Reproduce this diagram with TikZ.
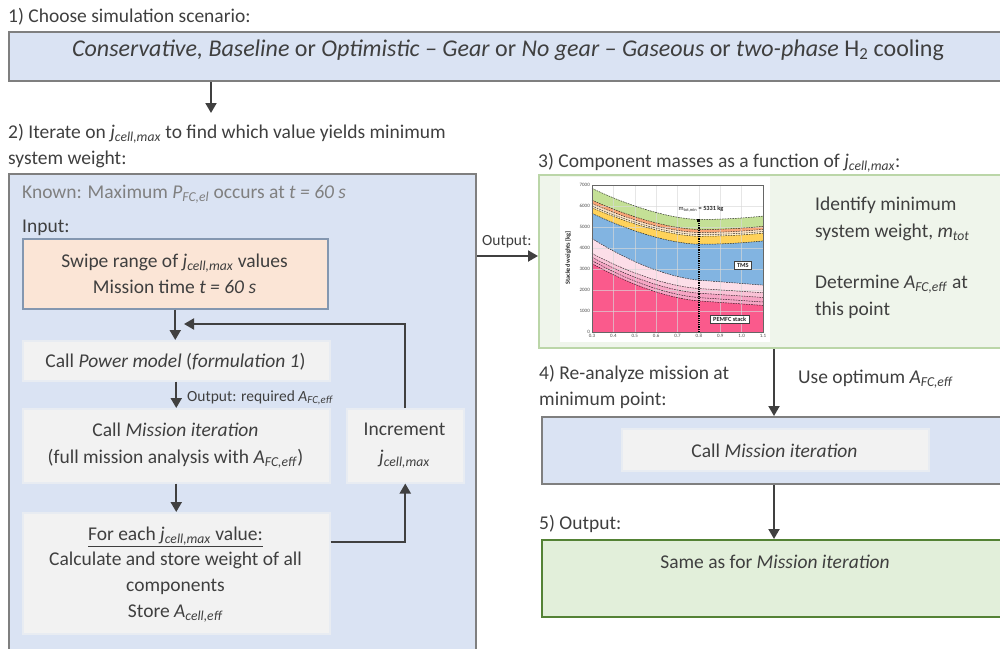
\documentclass[tikz,border=0pt]{standalone}
\usepackage{fontspec}
\setmainfont{Carlito}
\usetikzlibrary{arrows.meta}

\definecolor{txt}{HTML}{3F3F3F}
\definecolor{lbfill}{HTML}{DAE3F3}
\definecolor{lbdraw}{HTML}{7F7F7F}
\definecolor{peach}{HTML}{FBE5D6}
\definecolor{peachdraw}{HTML}{8497B0}
\definecolor{stepfill}{HTML}{F2F2F2}
\definecolor{stepdraw}{HTML}{E8ECF2}
\definecolor{pgfill}{HTML}{EFF5EB}
\definecolor{pgdraw}{HTML}{BBD6A8}
\definecolor{outfill}{HTML}{E2EFDA}
\definecolor{outdraw}{HTML}{548235}
\definecolor{arrowc}{HTML}{404040}
\definecolor{knowngray}{HTML}{808080}
% stacked-weight bands
\definecolor{cgreen}{HTML}{C4E096}
\definecolor{corange}{HTML}{F8A678}
\definecolor{ccream}{HTML}{FCE2C2}
\definecolor{clight}{HTML}{FFF1D0}
\definecolor{cyellow}{HTML}{FFD25A}
\definecolor{cblue}{HTML}{82B4E1}
\definecolor{cpinka}{HTML}{FCDEE8}
\definecolor{cpinkb}{HTML}{F9C2D6}
\definecolor{cpinkc}{HTML}{F6A5C4}
\definecolor{cred}{HTML}{FA5A8C}

\newcommand\jcm{\textit{j}\textsubscript{\textit{cell,max}}}
\newcommand\afc{\textit{A}\textsubscript{\textit{FC,eff}}}

\tikzset{
  txtnode/.style={text=txt, inner sep=0pt, font=\fontsize{19.5}{23}\selectfont},
  smalltxt/.style={text=txt, inner sep=0pt, font=\fontsize{15.5}{18}\selectfont},
  panel/.style={draw=lbdraw, fill=lbfill, line width=2pt, inner sep=0pt, anchor=north west},
  inputbox/.style={draw=peachdraw, fill=peach, line width=1.5pt, inner sep=0pt, anchor=north west},
  stepbox/.style={draw=stepdraw, fill=stepfill, line width=1.5pt, inner sep=0pt, anchor=north west},
  resultbox/.style={draw=pgdraw, fill=pgfill, line width=2pt, inner sep=0pt, anchor=north west},
  outbox/.style={draw=outdraw, fill=outfill, line width=2pt, inner sep=0pt, anchor=north west},
  arr/.style={draw=arrowc, line width=2pt, -{Triangle[length=10pt,width=11pt]}},
  chartgrid/.style={draw=gray!30, line width=0.5pt, opacity=0.65},
  bandline/.style={draw=black, line width=0.5pt, dash pattern=on 1.6pt off 1pt, opacity=0.8},
  ticklab/.style={text=black!70, inner sep=0pt, font=\fontsize{5}{6}\selectfont},
  chartlab/.style={text=black!85, font=\bfseries\fontsize{6.3}{7}\selectfont},
  declare function={
    su(\t)=(max(0.8-\t,0.001)/0.5)^1.63+1.2*max(\t-0.8,0)^2;
    sl(\t)=0.8*(max(0.8-\t,0.001)/0.5)^1.75+0.4*(0.8-\t);
  }
}

\begin{document}
\begin{tikzpicture}[x=1pt,y=-1pt]
\useasboundingbox (0,0) rectangle (1000,648);
\clip (0,0) rectangle (1000,648);

% ---------- step 1: scenario ----------
\node[txtnode, anchor=base west] (l1) at (8,22) {1) Choose simulation scenario:};
\node[panel, minimum width=1000pt, minimum height=49pt] (b1) at (8,31) {};
\node[txtnode, anchor=base, font=\fontsize{24}{28}\selectfont] (scen) at (508,56)
  {\textit{Conservative, Baseline} or \textit{Optimistic – Gear} or \textit{No gear – Gaseous} or \textit{two-phase} H\textsubscript{2} cooling};
\coordinate (a1end) at (211,113);
\draw[arr] (b1.south -| a1end) -- (a1end);

% ---------- step 2: iteration loop ----------
\node[txtnode, anchor=base west] (l2a) at (8,138) {2) Iterate on \jcm{} to find which value yields minimum};
\node[txtnode, anchor=base west] (l2b) at (8,164) {system weight:};
\node[panel, minimum width=467pt, minimum height=490pt] (b2) at (8,173) {};
\node[txtnode, anchor=base west, text=knowngray] (known) at (22,198)
  {Known: Maximum \textit{P}\textsubscript{\textit{FC,el}} occurs at \textit{t = 60 s}};
\node[txtnode, anchor=base west] (inl) at (22,232) {Input:};

\node[inputbox, minimum width=305pt, minimum height=70pt] (inbox) at (22,238) {};
\node[txtnode, anchor=base] (sw1) at (174.5,267) {Swipe range of \jcm{} values};
\node[txtnode, anchor=base] (sw2) at (174.5,293) {Mission time \textit{t = 60 s}};

\node[stepbox, minimum width=307pt, minimum height=40pt] (pwbox) at (22,340) {};
\node[txtnode, anchor=base] (pw) at (175.5,367) {Call \textit{Power model} (\textit{formulation 1})};

\node[stepbox, minimum width=307pt, minimum height=74pt] (misbox) at (22,408) {};
\node[txtnode, anchor=base] (mis1) at (175.5,436) {Call \textit{Mission iteration}};
\node[txtnode, anchor=base] (mis2) at (175.5,463) {(full mission analysis with \afc)};

\node[stepbox, minimum width=117pt, minimum height=74pt] (incbox) at (346,408) {};
\node[txtnode, anchor=base] (inc1) at (404.5,435) {Increment};
\node[txtnode, anchor=base] (inc2) at (404.5,463) {\jcm};

\node[stepbox, minimum width=307pt, minimum height=121pt] (febox) at (22,512) {};
\node[txtnode, anchor=base] (fe1) at (175.5,540) {\underline{For each \jcm{} value:}};
\node[txtnode, anchor=base] (fe2) at (175.5,565) {Calculate and store weight of all};
\node[txtnode, anchor=base] (fe3) at (175.5,591) {components};
\node[txtnode, anchor=base] (fe4) at (175.5,617) {Store \textit{A}\textsubscript{\textit{cell,eff}}};

\draw[arr] (inbox.south) -- (inbox.south |- pwbox.north);
\draw[arr] (pwbox.south) -- (misbox.north);
\node[smalltxt, anchor=base west] (outreq) at (187,401) {Output: required \afc};
\draw[arr] (misbox.south) -- (febox.north);
\draw[arr] ([yshift=-30pt]febox.north east) -| (incbox.south);
\coordinate (fbend) at (184,324);
\draw[arr] (incbox.north) |- (fbend);

% ---------- step 3: component masses ----------
\node[txtnode, anchor=base west] (l3) at (538,167) {3) Component masses as a function of \jcm:};
\node[resultbox, minimum width=472pt, minimum height=173pt] (b3) at (538,174) {};
\node[smalltxt, anchor=base west] (outl) at (482,245) {Output:};
\draw[arr] ([yshift=5.5pt]b3.west -| b2.east) -- ([yshift=5.5pt]b3.west);

\node[txtnode, anchor=base west] (id1) at (815,210) {Identify minimum};
\node[txtnode, anchor=base west] (id2) at (815,237) {system weight, \textit{m}\textsubscript{\textit{tot}}};
\node[txtnode, anchor=base west] (det1) at (815,288) {Determine \afc{} at};
\node[txtnode, anchor=base west] (det2) at (815,315) {this point};

% stacked weights chart
\fill[white] (560,177) rectangle (770,342);
\begin{scope}[shift={(527.875,332)}, x=213.75pt, y=0.021pt]
  \foreach \a/\b/\c in {6840/5360/cgreen, 6280/4880/corange, 6120/4740/ccream,
                        6000/4640/clight, 5920/4560/cyellow, 5650/4180/cblue}
    \fill[\c] plot[domain=0.3:1.1, samples=41] (\x,{\b+(\a-\b)*su(\x)}) -- (1.1,0) -- (0.3,0) -- cycle;
  \foreach \a/\b/\c in {4450/2470/cpinka, 3740/2070/cpinkb, 3560/1850/cpinkc,
                        3400/1640/cpinkc, 3260/1480/cred}
    \fill[\c] plot[domain=0.3:1.1, samples=41] (\x,{\b+(\a-\b)*sl(\x)}) -- (1.1,0) -- (0.3,0) -- cycle;
  \foreach \g in {0.4,0.5,0.6,0.7,0.8,0.9,1.0}
    \draw[chartgrid] (\g,0) -- (\g,7000);
  \foreach \g in {1000,2000,3000,4000,5000,6000}
    \draw[chartgrid] (0.3,\g) -- (1.1,\g);
  \foreach \a/\b in {6840/5360, 6280/4880, 6120/4740, 6000/4640, 5920/4560, 5650/4180}
    \draw[bandline] plot[domain=0.3:1.1, samples=41] (\x,{\b+(\a-\b)*su(\x)});
  \foreach \a/\b in {4450/2470, 3740/2070, 3560/1850, 3400/1640, 3260/1480}
    \draw[bandline] plot[domain=0.3:1.1, samples=41] (\x,{\b+(\a-\b)*sl(\x)});
  \draw[black!60, line width=0.6pt] (0.3,0) rectangle (1.1,7000);
  \foreach \t [count=\i] in {0.3,0.4,0.5,0.6,0.7,0.8,0.9,1.0,1.1}
    \node[ticklab, anchor=north] (xt\i) at ([yshift=-2pt]\t,0) {\t};
  \foreach \t [count=\i] in {0,1000,2000,3000,4000,5000,6000,7000}
    \node[ticklab, anchor=east] (yt\i) at ([xshift=-2pt]0.3,\t) {\t};
  \node[chartlab, rotate=90] (ylab) at (0.1877,3524) {Stacked weights [kg]};
  \draw[black, line width=1.3pt, dash pattern=on 1.2pt off 1pt] (0.8,0) -- (0.8,5331);
  \node[fill=black, minimum size=3pt, inner sep=0pt] (mmin) at (0.8,5331) {};
  \node[chartlab] (mlab) at (0.81,5857) {\mdseries m\textsubscript{tot,min}\bfseries{} = 5331 kg};
  \node[chartlab, draw=black!75, fill=white, line width=0.5pt, inner xsep=3pt, inner ysep=1.8pt] (tms) at (1.006,3190) {TMS};
  \node[chartlab, draw=black!75, fill=white, line width=0.5pt, inner xsep=3pt, inner ysep=1.8pt] (pem) at (0.944,620) {PEMFC stack};
\end{scope}

% ---------- step 4: re-analysis ----------
\node[txtnode, anchor=base west] (l4a) at (539,379) {4) Re-analyze mission at};
\node[txtnode, anchor=base west] (l4b) at (539,405) {minimum point:};
\node[panel, minimum width=464pt, minimum height=67pt] (b4) at (541,416) {};
\node[stepbox, minimum width=307pt, minimum height=42pt] (cmibox) at (621,428) {};
\node[txtnode, anchor=base] (cmi) at (774.5,457) {Call \textit{Mission iteration}};
\draw[arr] (b3.south -| b4.north) -- (b4.north);
\node[txtnode, anchor=base west] (useopt) at (798,383) {Use optimum \afc};

% ---------- step 5: output ----------
\node[txtnode, anchor=base west] (l5) at (539,529) {5) Output:};
\node[outbox, minimum width=464pt, minimum height=77pt] (b5) at (541,539) {};
\node[txtnode, anchor=base] (same) at (775,568) {Same as for \textit{Mission iteration}};
\draw[arr] (b4.south) -- (b5.north);
\end{tikzpicture}
\end{document}
